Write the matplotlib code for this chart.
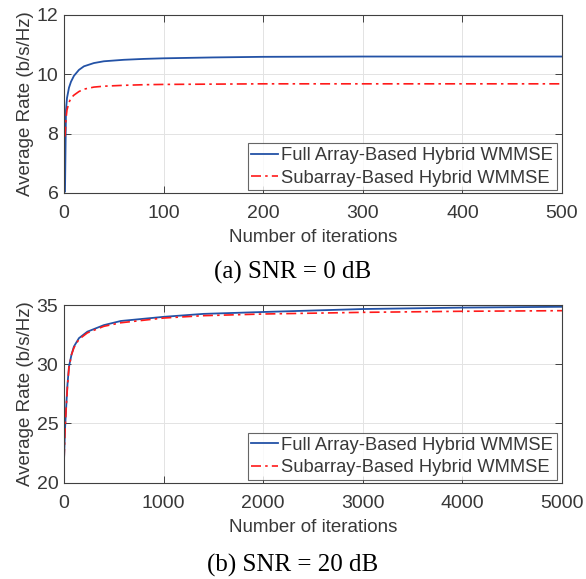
import matplotlib.pyplot as plt
import numpy as np

# (a) SNR = 0 dB
iters_a = [1, 2, 3, 5, 7, 10, 15, 20, 30, 40, 60, 80, 100, 150, 200, 300, 400, 500]
full_a = [6.05, 8.8, 9.2, 9.55, 9.75, 9.95, 10.15, 10.27, 10.38, 10.44, 10.49, 10.52,
          10.54, 10.57, 10.59, 10.6, 10.6, 10.6]
sub_a = [7.9, 8.5, 8.8, 9.05, 9.2, 9.3, 9.42, 9.5, 9.57, 9.6, 9.63, 9.65,
         9.66, 9.67, 9.68, 9.68, 9.68, 9.68]

# (b) SNR = 20 dB
iters_b = [1, 10, 20, 35, 50, 75, 100, 150, 235, 400, 570, 1000, 1400, 2000, 3000, 4000, 5000]
full_b = [22.1, 24.5, 26.1, 28.3, 29.8, 30.8, 31.5, 32.2, 32.75, 33.3, 33.65, 34.0,
          34.25, 34.41, 34.66, 34.78, 34.85]
sub_b = [22.0, 24.3, 26.0, 28.2, 29.7, 30.8, 31.4, 32.1, 32.65, 33.2, 33.5, 33.9,
         34.1, 34.24, 34.38, 34.47, 34.52]

labels = ['Full Array-Based Hybrid WMMSE', 'Subarray-Based Hybrid WMMSE']
xticks_a = [0, 100, 200, 300, 400, 500]
yticks_a = [6, 8, 10, 12]
xticks_b = [0, 1000, 2000, 3000, 4000, 5000]
yticks_b = [20, 25, 30, 35]

plt.rcParams['font.family'] = ['Liberation Sans', 'DejaVu Sans']
TXT = '#383838'
EDGE = '#404040'
BLUE = '#2352a6'
RED = '#ff1a1a'


def style_axes(ax, xticks, yticks, xlim, ylim):
    ax.set_xlim(*xlim)
    ax.set_ylim(*ylim)
    ax.set_xticks(xticks)
    ax.set_yticks(yticks)
    ax.grid(True, color='#e3e3e3', linewidth=0.7)
    ax.set_axisbelow(True)
    ax.tick_params(direction='in', length=5, width=0.7, colors=EDGE,
                   labelcolor=TXT, labelsize=14, top=True, right=True)
    ax.tick_params(axis='x', pad=9)
    ax.tick_params(axis='y', pad=4)
    for sp in ax.spines.values():
        sp.set_color(EDGE)
        sp.set_linewidth(0.8)
    ax.set_xlabel('Number of iterations', fontsize=13.5, color=TXT, labelpad=5)
    ax.set_ylabel('Average Rate (b/s/Hz)', fontsize=13.5, color=TXT, labelpad=2)


def draw(ax, iters, full, sub, xticks, yticks, xlim, ylim):
    ax.plot(iters, full, color=BLUE, linewidth=1.3, label=labels[0])
    ax.plot(iters, sub, color=RED, linewidth=1.2, dashes=(6, 2.5, 1.5, 2.5), label=labels[1])
    style_axes(ax, xticks, yticks, xlim, ylim)
    leg = ax.legend(loc='lower right', bbox_to_anchor=(0.99, 0.015), borderaxespad=0,
                    fontsize=13.2, frameon=True, fancybox=False, handlelength=1.45,
                    handletextpad=0.2, borderpad=0.2, labelspacing=0.3)
    leg.get_frame().set_edgecolor(EDGE)
    leg.get_frame().set_linewidth(0.8)
    for t in leg.get_texts():
        t.set_color(TXT)


fig = plt.figure(figsize=(5.86, 5.79), dpi=100)
ax1 = fig.add_axes([64 / 586, 1 - 193 / 579, 498 / 586, 178 / 579])
ax2 = fig.add_axes([64 / 586, 1 - 482.7 / 579, 498 / 586, 177.7 / 579])

draw(ax1, iters_a, full_a, sub_a, xticks_a, yticks_a, (0, 500), (6, 12))
draw(ax2, iters_b, full_b, sub_b, xticks_b, yticks_b, (0, 5000), (20, 35))

fig.text(0.5, 1 - 272 / 579, '(a) SNR = 0 dB', ha='center', va='center',
         fontsize=18, family='Liberation Serif', color='black')
fig.text(0.5, 1 - 565 / 579, '(b) SNR = 20 dB', ha='center', va='center',
         fontsize=18, family='Liberation Serif', color='black')

fig.savefig('out.png', dpi=100)
